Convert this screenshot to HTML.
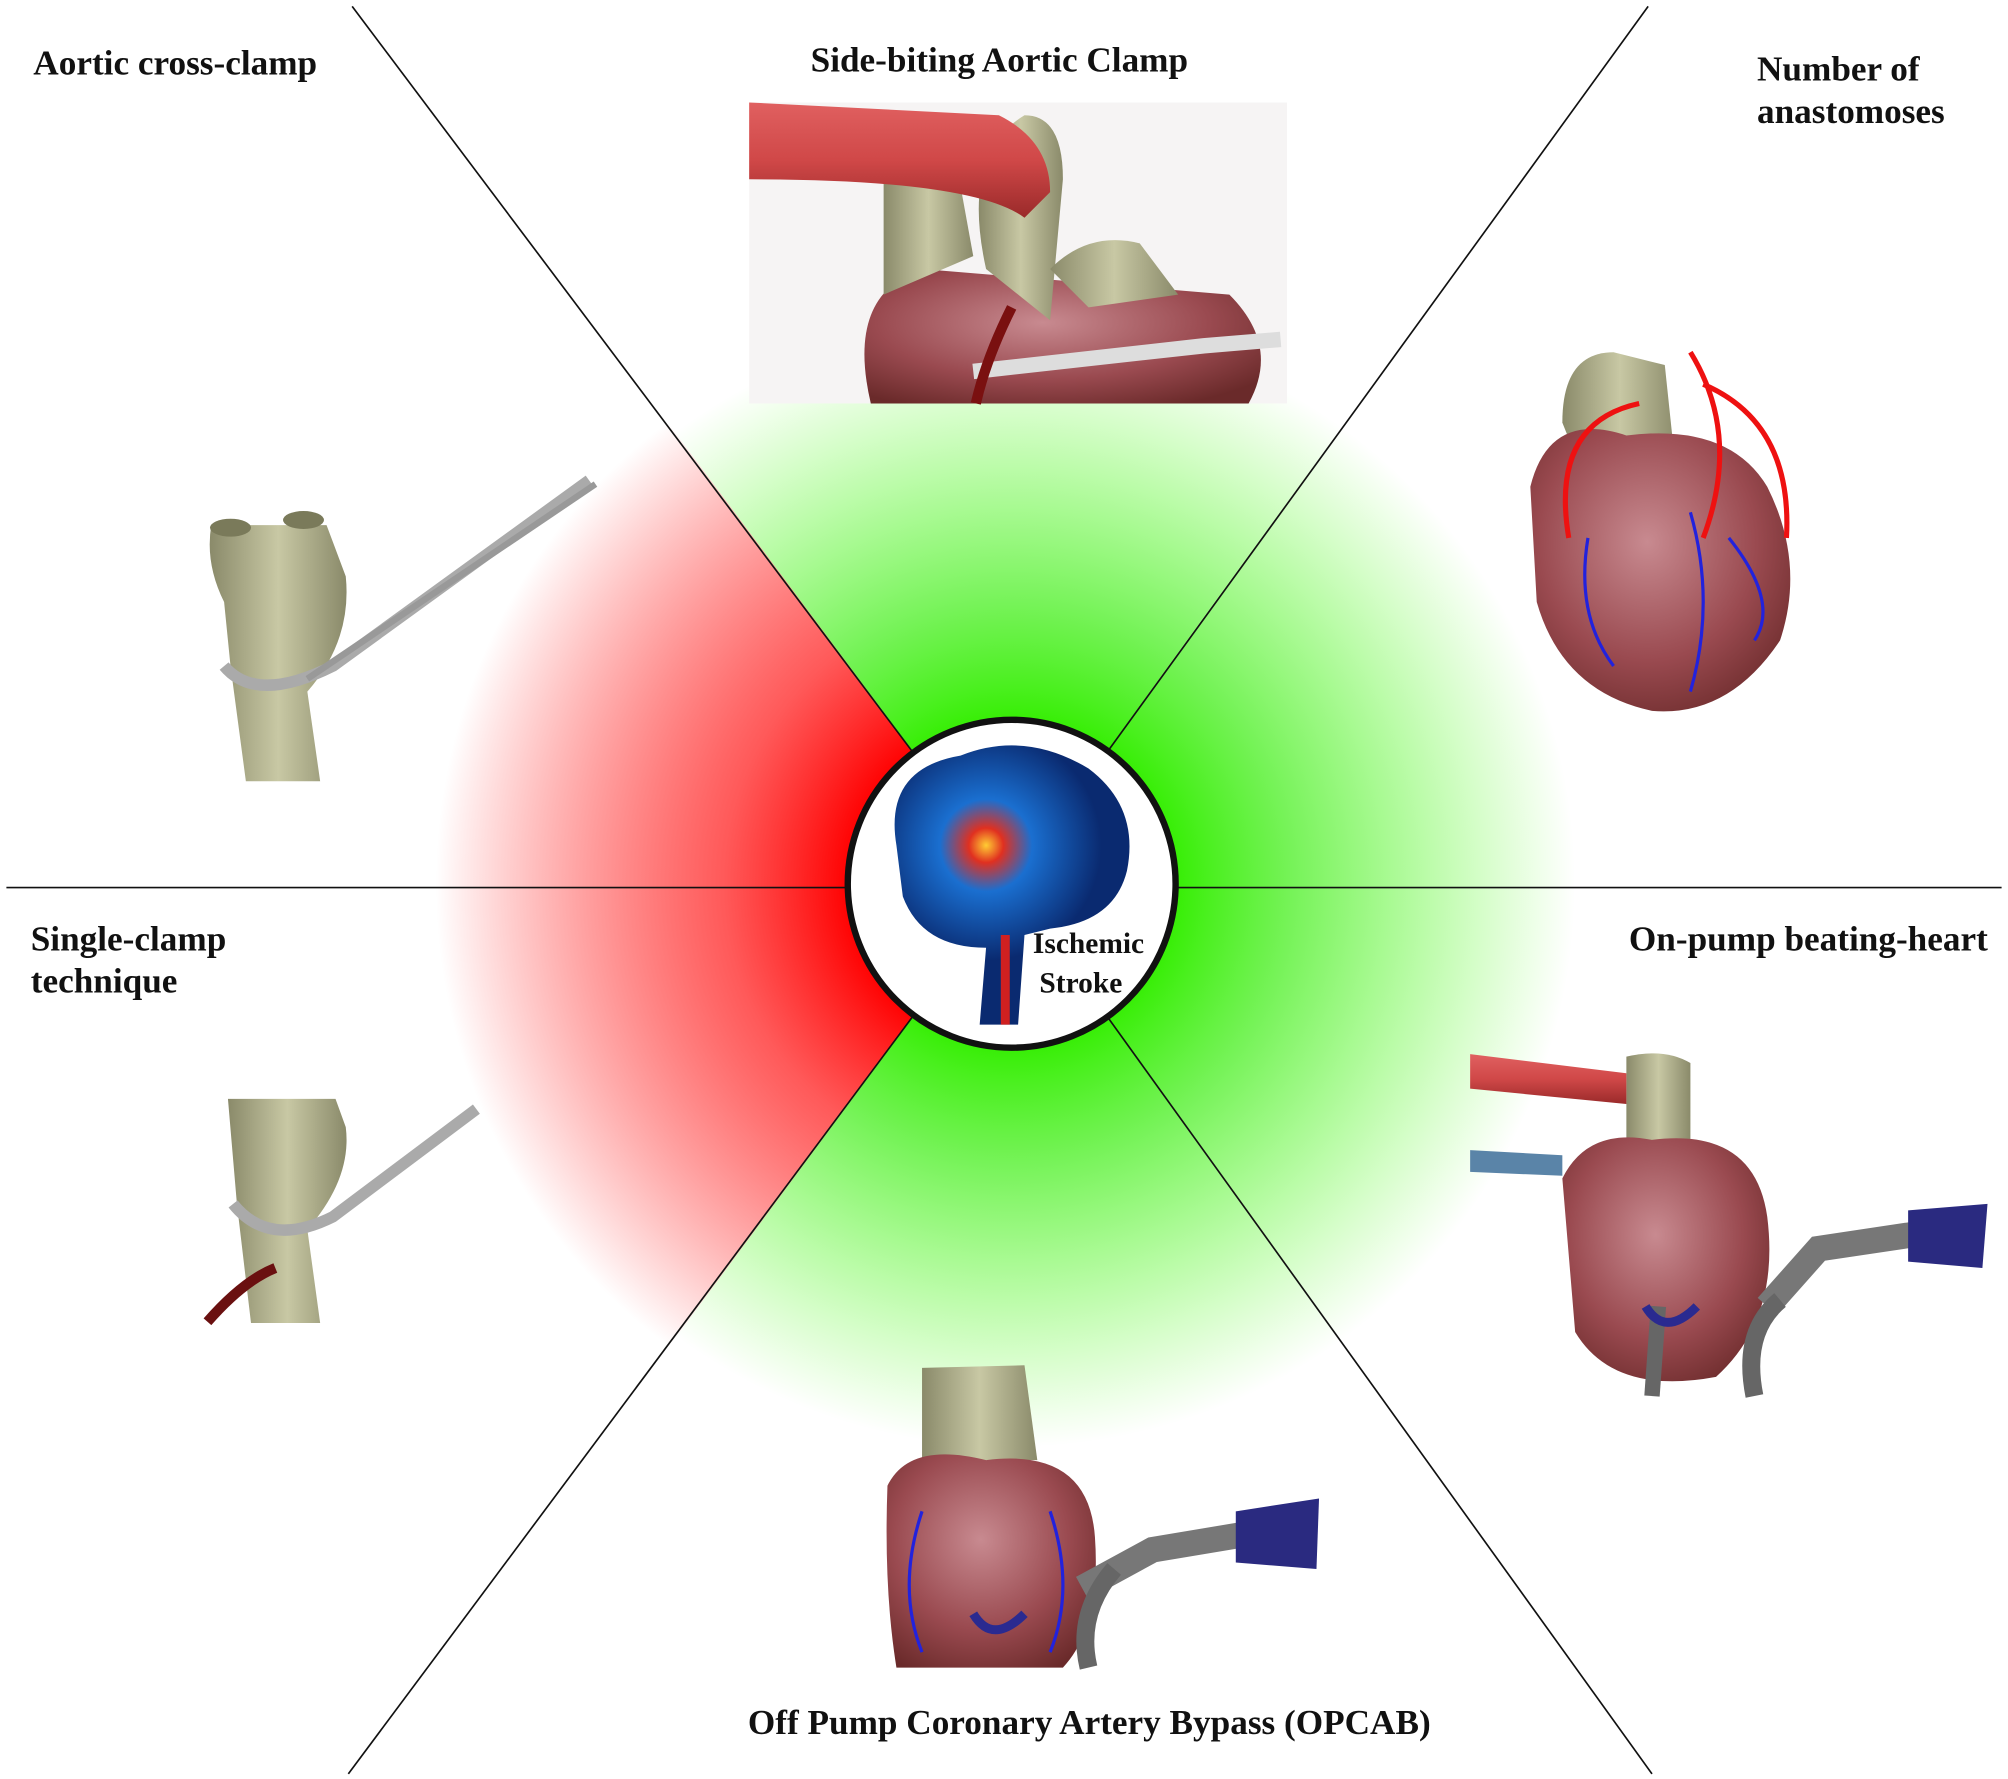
<!DOCTYPE html>
<html><head><meta charset="utf-8"><style>
html,body{margin:0;padding:0;background:#fff;width:2008px;height:1779px;overflow:hidden;}
svg{display:block;}
text{font-family:"Liberation Serif",serif;font-weight:bold;font-size:27.5px;fill:#111;}
</style></head><body>
<svg width="2008" height="1779" viewBox="0 0 1568 1389" preserveAspectRatio="none" xmlns="http://www.w3.org/2000/svg">
<defs>
<radialGradient id="rg" cx="790" cy="690" r="450" gradientUnits="userSpaceOnUse">
<stop offset="0.28" stop-color="#ff0000"/><stop offset="0.5" stop-color="#ff3030" stop-opacity="0.8"/><stop offset="1" stop-color="#ff0000" stop-opacity="0"/></radialGradient>
<radialGradient id="gg" cx="790" cy="690" r="440" gradientUnits="userSpaceOnUse">
<stop offset="0.28" stop-color="#33ee00"/><stop offset="0.5" stop-color="#55f030" stop-opacity="0.8"/><stop offset="1" stop-color="#66ff33" stop-opacity="0"/></radialGradient>
<radialGradient id="brain" cx="770" cy="660" r="90" gradientUnits="userSpaceOnUse">
<stop offset="0" stop-color="#ffcc33"/><stop offset="0.15" stop-color="#e03020"/><stop offset="0.4" stop-color="#1a6fd0"/><stop offset="1" stop-color="#0a2a70"/></radialGradient>
<radialGradient id="heart" cx="0.45" cy="0.4" r="0.7"><stop offset="0" stop-color="#c88a90"/><stop offset="0.6" stop-color="#9a4a50"/><stop offset="1" stop-color="#6a2a2a"/></radialGradient>
<linearGradient id="aorta" x1="0" x2="1"><stop offset="0" stop-color="#8a8a6a"/><stop offset="0.5" stop-color="#c8c8a4"/><stop offset="1" stop-color="#8a8a6a"/></linearGradient>
<linearGradient id="tube" x1="0" y1="0" x2="0" y2="1"><stop offset="0" stop-color="#e06060"/><stop offset="0.5" stop-color="#d04848"/><stop offset="1" stop-color="#9a2a2a"/></linearGradient>
</defs>
<rect width="1568" height="1389" fill="#fff"/>
<polygon points="790,690 275,0 0,0 0,1389 272,1389" fill="url(#rg)"/>
<polygon points="790,690 275,0 1287,0" fill="url(#gg)"/>
<polygon points="790,690 1287,0 1568,0 1568,1389 1290,1389" fill="url(#gg)"/>
<polygon points="790,690 272,1389 1290,1389" fill="url(#gg)"/>
<g stroke="#111" stroke-width="1.3">
<line x1="275" y1="5" x2="790" y2="690"/><line x1="1287" y1="5" x2="790" y2="690"/>
<line x1="272" y1="1385" x2="790" y2="690"/><line x1="1290" y1="1385" x2="790" y2="690"/>
<line x1="5" y1="693" x2="1563" y2="693"/>
</g>
<rect x="585" y="80" width="420" height="235" fill="#f6f4f4"/>
<path d="M680 315 Q660 230 720 210 L960 230 Q1000 270 975 315Z" fill="url(#heart)"/>
<path d="M690 230 L690 120 Q700 90 740 90 L760 200 Z" fill="url(#aorta)"/>
<path d="M770 210 Q750 120 800 90 Q830 90 830 140 L820 250 Z" fill="url(#aorta)"/>
<path d="M820 210 Q850 180 890 190 L920 230 L850 240Z" fill="url(#aorta)"/>
<path d="M585 80 L780 90 Q820 110 820 150 L800 170 Q760 140 585 140Z" fill="url(#tube)"/>
<path d="M760 290 L940 270 L1000 265" stroke="#ddd" stroke-width="12" fill="none"/>
<path d="M790 240 Q770 280 762 315" stroke="#7a1010" stroke-width="8" fill="none"/>
<path d="M165 410 Q160 440 175 470 L180 520 L192 610 L250 610 L240 540 Q275 500 270 450 L255 410 Z" fill="url(#aorta)"/>
<ellipse cx="180" cy="412" rx="16" ry="7" fill="#7a7a5a"/><ellipse cx="237" cy="406" rx="16" ry="7" fill="#7a7a5a"/>
<path d="M175 520 Q200 550 260 520 L460 375" stroke="#aaa" stroke-width="9" fill="none"/>
<path d="M240 530 L465 378" stroke="#999" stroke-width="5" fill="none"/>
<path d="M178 858 L185 940 L196 1033 L250 1033 L240 960 Q275 920 270 880 L262 858Z" fill="url(#aorta)"/>
<path d="M182 940 Q210 975 260 950 L372 866" stroke="#aaa" stroke-width="9" fill="none"/>
<path d="M162 1032 Q190 1000 215 990" stroke="#6a1010" stroke-width="8" fill="none"/>
<path d="M1220 330 Q1220 275 1260 275 L1300 285 L1310 380 L1240 380Z" fill="url(#aorta)"/>
<path d="M1195 380 Q1210 320 1270 340 Q1350 330 1380 380 Q1410 440 1390 500 Q1350 560 1290 555 Q1220 540 1200 470Z" fill="url(#heart)"/>
<path d="M1225 420 Q1210 330 1280 315 M1330 300 Q1400 330 1395 420 M1320 275 Q1360 340 1330 420" stroke="#ee1111" stroke-width="4" fill="none"/>
<path d="M1240 420 Q1230 480 1260 520 M1320 400 Q1340 470 1320 540 M1350 420 Q1390 470 1370 500" stroke="#2222dd" stroke-width="2.5" fill="none"/>
<path d="M1270 900 L1270 825 Q1300 818 1320 830 L1320 900Z" fill="url(#aorta)"/>
<path d="M1220 920 Q1240 880 1290 890 Q1370 880 1380 950 Q1390 1030 1340 1075 Q1260 1090 1230 1040Z" fill="url(#heart)"/>
<path d="M1148 823 L1270 838 L1270 862 L1148 850Z" fill="url(#tube)"/>
<path d="M1148 898 L1220 902 L1220 918 L1148 915Z" fill="#5a84a8"/>
<path d="M1380 1020 L1420 975 L1520 960" stroke="#777" stroke-width="20" fill="none"/>
<path d="M1490 945 L1552 940 L1548 990 L1490 985Z" fill="#2a2a80"/>
<path d="M1390 1015 Q1360 1040 1370 1090" stroke="#666" stroke-width="14" fill="none"/>
<path d="M1295 1020 L1290 1090" stroke="#666" stroke-width="12" fill="none"/>
<path d="M1285 1020 Q1300 1045 1325 1020" stroke="#2a2a90" stroke-width="7" fill="none"/>
<path d="M720 1140 L720 1068 L800 1066 L810 1140Z" fill="url(#aorta)"/>
<path d="M693 1160 Q710 1125 770 1140 Q850 1130 855 1200 Q860 1270 830 1302 L700 1302 Q690 1240 693 1160Z" fill="url(#heart)"/>
<path d="M845 1240 L900 1210 L990 1195" stroke="#777" stroke-width="20" fill="none"/>
<path d="M965 1180 L1030 1170 L1028 1225 L965 1220Z" fill="#2a2a80"/>
<path d="M870 1225 Q840 1260 850 1302" stroke="#666" stroke-width="14" fill="none"/>
<path d="M760 1260 Q775 1285 800 1260" stroke="#2a2a90" stroke-width="7" fill="none"/>
<path d="M720 1180 Q700 1240 720 1290 M820 1180 Q840 1240 820 1290" stroke="#2222dd" stroke-width="2.5" fill="none"/>
<circle cx="790" cy="690" r="128" fill="#fff" stroke="#111" stroke-width="5"/>
<path d="M700 660 Q690 600 750 590 Q800 570 850 600 Q890 630 880 680 Q870 720 820 725 L800 730 L795 800 L765 800 L770 740 Q720 740 705 700Z" fill="url(#brain)"/>
<path d="M785 730 L785 800" stroke="#d02020" stroke-width="7"/>
<text x="850" y="744" text-anchor="middle" style="font-size:23px">Ischemic</text>
<text x="844" y="775" text-anchor="middle" style="font-size:23px">Stroke</text>
<text x="26" y="58">Aortic cross-clamp</text>
<text x="633" y="56">Side-biting  Aortic Clamp</text>
<text x="1372" y="63">Number of</text>
<text x="1372" y="96">anastomoses</text>
<text x="24" y="742">Single-clamp</text>
<text x="24" y="775">technique</text>
<text x="1272" y="742">On-pump beating-heart</text>
<text x="584" y="1354">Off Pump Coronary Artery Bypass (OPCAB)</text>
</svg>
</body></html>
